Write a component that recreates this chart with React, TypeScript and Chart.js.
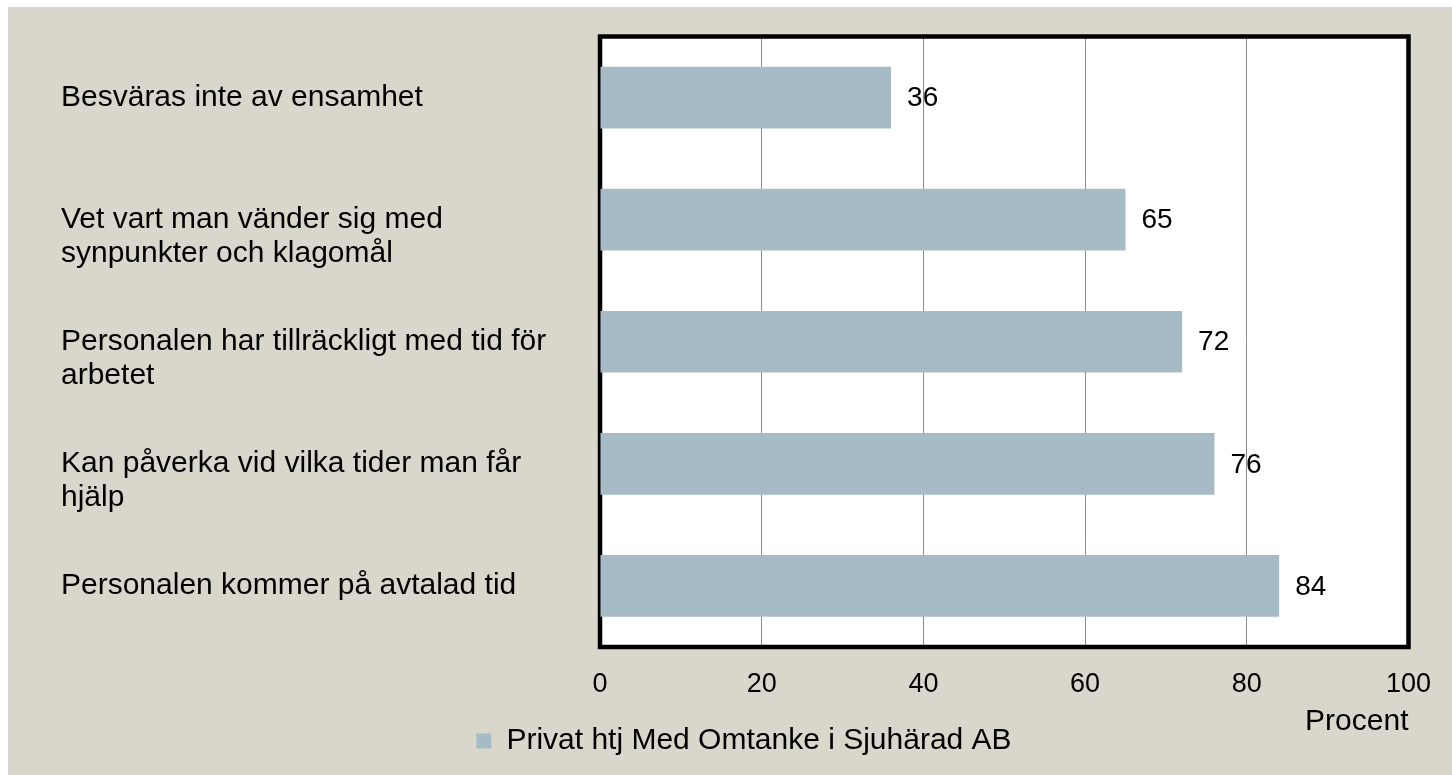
import React, { useEffect, useRef } from "react";
import { Chart, registerables } from "chart.js";

Chart.register(...registerables);

const categoryLines: string[][] = [
  ["Besväras inte av ensamhet"],
  ["Vet vart man vänder sig med", "synpunkter och klagomål"],
  ["Personalen har tillräckligt med tid för", "arbetet"],
  ["Kan påverka vid vilka tider man får", "hjälp"],
  ["Personalen kommer på avtalad tid"],
];
const seriesName = "Privat htj Med Omtanke i Sjuhärad AB";
const seriesValues = [36, 65, 72, 76, 84];
const xMin = 0;
const xMax = 100;
const xStep = 20;
const xTitle = "Procent";

const FONT = "'Liberation Sans', Arial, sans-serif";
const BG = "#d9d7cc";
const BAR = "#a7bbc6";

const plotBgPlugin = {
  id: "plotBg",
  beforeDraw(chart: any) {
    const { ctx, chartArea } = chart;
    ctx.save();
    ctx.fillStyle = "#ffffff";
    ctx.fillRect(
      chartArea.left,
      chartArea.top,
      chartArea.right - chartArea.left,
      chartArea.bottom - chartArea.top
    );
    ctx.restore();
  },
};

const framePlugin = {
  id: "frame",
  beforeDatasetsDraw(chart: any) {
    const { ctx, chartArea } = chart;
    ctx.save();
    ctx.strokeStyle = "#000";
    ctx.lineWidth = 4.5;
    ctx.lineJoin = "miter";
    ctx.strokeRect(
      chartArea.left,
      chartArea.top,
      chartArea.right - chartArea.left,
      chartArea.bottom - chartArea.top
    );
    ctx.restore();
  },
};

const valueLabelPlugin = {
  id: "valueLabels",
  afterDatasetsDraw(chart: any) {
    const { ctx } = chart;
    ctx.save();
    ctx.font = `28px ${FONT}`;
    ctx.fillStyle = "#000";
    ctx.textAlign = "left";
    ctx.textBaseline = "middle";
    chart.data.datasets.forEach((ds: any, di: number) => {
      const meta = chart.getDatasetMeta(di);
      meta.data.forEach((el: any, i: number) => {
        ctx.fillText(String(ds.data[i]), el.x + 16, el.y + 1);
      });
    });
    ctx.restore();
  },
};

export default function App() {
  const ref = useRef<HTMLCanvasElement | null>(null);

  useEffect(() => {
    if (!ref.current) return;
    const labels = categoryLines.map((l) => (l.length > 1 ? ["", ...l] : l));
    const chart = new Chart(ref.current, {
      type: "bar",
      data: {
        labels,
        datasets: [
          {
            label: seriesName,
            data: seriesValues,
            backgroundColor: BAR,
            borderWidth: 0,
            categoryPercentage: 1,
            barPercentage: 0.505,
          },
        ],
      },
      options: {
        indexAxis: "y",
        animation: false,
        responsive: false,
        layout: { padding: { left: 53, right: 25, top: 29.5, bottom: 9 } },
        plugins: {
          tooltip: { enabled: false },
          legend: {
            position: "bottom",
            align: "center",
            labels: {
              boxWidth: 15,
              boxHeight: 15,
              padding: 10,
              color: "#000",
              font: { family: FONT, size: 30 },
            },
          },
        },
        scales: {
          x: {
            type: "linear",
            min: xMin,
            max: xMax,
            ticks: {
              stepSize: xStep,
              padding: 21,
              color: "#000",
              font: { family: FONT, size: 27 },
            },
            grid: { color: "#8c8c8c", lineWidth: 1, drawTicks: false },
            border: { display: false },
            title: {
              display: true,
              text: xTitle,
              align: "end",
              color: "#000",
              font: { family: FONT, size: 30 },
              padding: { top: 0, bottom: -23.7 },
            },
            afterFit(scale: any) {
              scale.height = 69;
              scale.paddingLeft = 0;
              scale.paddingRight = 0;
            },
          },
          y: {
            type: "category",
            grid: { display: false, drawTicks: false },
            border: { display: false },
            ticks: {
              crossAlign: "far",
              padding: 0,
              color: "#000",
              font: { family: FONT, size: 30, lineHeight: 1.13 },
            },
            afterFit(scale: any) {
              scale.width = 539;
              scale.paddingTop = 0;
              scale.paddingBottom = 0;
            },
          },
          yRight: {
            type: "linear",
            position: "right",
            display: true,
            grid: { display: false, drawTicks: false },
            border: { display: false },
            ticks: { display: false },
            afterFit(scale: any) {
              scale.width = 18.5;
            },
          },
        },
      } as any,
      plugins: [plotBgPlugin, framePlugin, valueLabelPlugin],
    });
    return () => chart.destroy();
  }, []);

  return (
    <div style={{ position: "fixed", left: 8, top: 7, width: 1444, height: 768 }}>
      <canvas
        ref={ref}
        width={1444}
        height={768}
        style={{ display: "block", background: BG, width: 1444, height: 768 }}
      />
    </div>
  );
}
